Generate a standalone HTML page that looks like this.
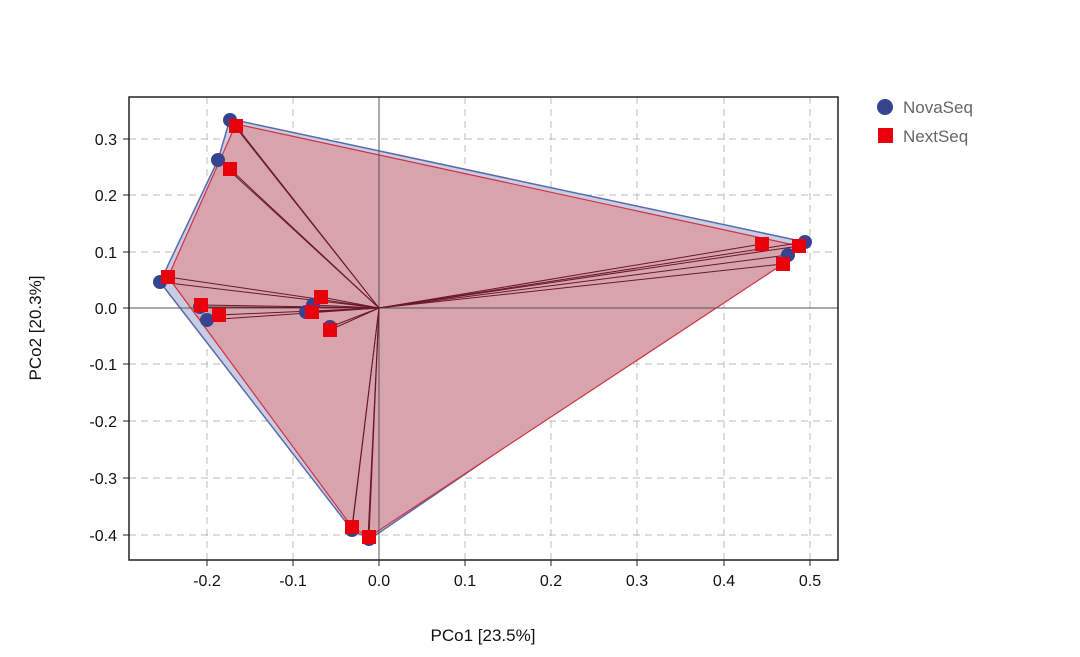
<!DOCTYPE html><html><head><style>body{margin:0;background:#fff}svg{display:block}</style></head><body>
<svg width="1080" height="657" viewBox="0 0 1080 657" font-family="Liberation Sans, sans-serif">
<g stroke="#bbb" stroke-dasharray="7,5" stroke-width="1">
<line x1="207" y1="97" x2="207" y2="560"/><line x1="293" y1="97" x2="293" y2="560"/><line x1="465" y1="97" x2="465" y2="560"/><line x1="551" y1="97" x2="551" y2="560"/><line x1="637" y1="97" x2="637" y2="560"/><line x1="724" y1="97" x2="724" y2="560"/><line x1="810" y1="97" x2="810" y2="560"/>
<line x1="129" y1="139" x2="838" y2="139"/><line x1="129" y1="195" x2="838" y2="195"/><line x1="129" y1="252" x2="838" y2="252"/><line x1="129" y1="364" x2="838" y2="364"/><line x1="129" y1="421" x2="838" y2="421"/><line x1="129" y1="478" x2="838" y2="478"/><line x1="129" y1="535" x2="838" y2="535"/>
</g>
<polygon points="230,119 805,242 370,539 352,530 160,282 218,160" fill="#c9cde3" stroke="#5a6aa8" stroke-width="1.5"/>
<polygon points="236,124 799,246 783,264 369,537 352,527 168,277" fill="#d7a3ad" stroke="#d03040" stroke-width="1.2"/>
<line x1="379" y1="97" x2="379" y2="560" stroke="#555" stroke-width="1"/>
<line x1="129" y1="308" x2="838" y2="308" stroke="#555" stroke-width="1"/>
<g stroke="#6a1828" stroke-width="1">
<line x1="379" y1="308" x2="230" y2="120"/><line x1="379" y1="308" x2="218" y2="160"/><line x1="379" y1="308" x2="160" y2="282"/><line x1="379" y1="308" x2="200" y2="307"/><line x1="379" y1="308" x2="207" y2="320"/><line x1="379" y1="308" x2="313" y2="305"/><line x1="379" y1="308" x2="306" y2="312"/><line x1="379" y1="308" x2="330" y2="327"/><line x1="379" y1="308" x2="352" y2="530"/><line x1="379" y1="308" x2="368" y2="538"/><line x1="379" y1="308" x2="805" y2="242"/><line x1="379" y1="308" x2="788" y2="255"/>
<line x1="379" y1="308" x2="236" y2="126"/><line x1="379" y1="308" x2="230" y2="169"/><line x1="379" y1="308" x2="168" y2="277"/><line x1="379" y1="308" x2="201" y2="305"/><line x1="379" y1="308" x2="219" y2="315"/><line x1="379" y1="308" x2="321" y2="297"/><line x1="379" y1="308" x2="312" y2="312"/><line x1="379" y1="308" x2="330" y2="330"/><line x1="379" y1="308" x2="352" y2="527"/><line x1="379" y1="308" x2="369" y2="537"/><line x1="379" y1="308" x2="762" y2="244"/><line x1="379" y1="308" x2="799" y2="246"/><line x1="379" y1="308" x2="783" y2="264"/>
</g>
<g fill="#36438f">
<circle cx="230" cy="120" r="7"/><circle cx="218" cy="160" r="7"/><circle cx="160" cy="282" r="7"/><circle cx="200" cy="307" r="7"/><circle cx="207" cy="320" r="7"/><circle cx="313" cy="305" r="7"/><circle cx="306" cy="312" r="7"/><circle cx="330" cy="327" r="7"/><circle cx="352" cy="530" r="7"/><circle cx="369" cy="539" r="7"/><circle cx="805" cy="242" r="7"/><circle cx="788" cy="255" r="7"/>
</g>
<g fill="#e8000b">
<rect x="229" y="119" width="14" height="14"/><rect x="223" y="162" width="14" height="14"/><rect x="161" y="270" width="14" height="14"/><rect x="194" y="298" width="14" height="14"/><rect x="212" y="308" width="14" height="14"/><rect x="314" y="290" width="14" height="14"/><rect x="305" y="305" width="14" height="14"/><rect x="323" y="323" width="14" height="14"/><rect x="345" y="520" width="14" height="14"/><rect x="362" y="530" width="14" height="14"/><rect x="755" y="237" width="14" height="14"/><rect x="792" y="239" width="14" height="14"/><rect x="776" y="257" width="14" height="14"/>
</g>
<rect x="129" y="97" width="709" height="463" fill="none" stroke="#222" stroke-width="1.5"/>
<g stroke="#222"><line x1="207" y1="560" x2="207" y2="566"/><line x1="293" y1="560" x2="293" y2="566"/><line x1="379" y1="560" x2="379" y2="566"/><line x1="465" y1="560" x2="465" y2="566"/><line x1="551" y1="560" x2="551" y2="566"/><line x1="637" y1="560" x2="637" y2="566"/><line x1="724" y1="560" x2="724" y2="566"/><line x1="810" y1="560" x2="810" y2="566"/>
<line x1="123" y1="139" x2="129" y2="139"/><line x1="123" y1="195" x2="129" y2="195"/><line x1="123" y1="252" x2="129" y2="252"/><line x1="123" y1="308" x2="129" y2="308"/><line x1="123" y1="364" x2="129" y2="364"/><line x1="123" y1="421" x2="129" y2="421"/><line x1="123" y1="478" x2="129" y2="478"/><line x1="123" y1="535" x2="129" y2="535"/></g>
<g font-size="16" fill="#111" text-anchor="middle">
<text x="207" y="586">-0.2</text><text x="293" y="586">-0.1</text><text x="379" y="586">0.0</text><text x="465" y="586">0.1</text><text x="551" y="586">0.2</text><text x="637" y="586">0.3</text><text x="724" y="586">0.4</text><text x="810" y="586">0.5</text>
</g>
<g font-size="16" fill="#111" text-anchor="end">
<text x="117" y="145">0.3</text><text x="117" y="201">0.2</text><text x="117" y="258">0.1</text><text x="117" y="314">0.0</text><text x="117" y="370">-0.1</text><text x="117" y="427">-0.2</text><text x="117" y="484">-0.3</text><text x="117" y="541">-0.4</text>
</g>
<text x="483" y="641" font-size="17" text-anchor="middle" fill="#111">PCo1 [23.5%]</text>
<text transform="translate(41,328) rotate(-90)" font-size="17" text-anchor="middle" fill="#111">PCo2 [20.3%]</text>
<circle cx="885" cy="107" r="8" fill="#36438f"/><text x="903" y="113" font-size="17" fill="#666">NovaSeq</text>
<rect x="878" y="128" width="15" height="15" fill="#e8000b"/><text x="903" y="142" font-size="17" fill="#666">NextSeq</text>
</svg></body></html>
